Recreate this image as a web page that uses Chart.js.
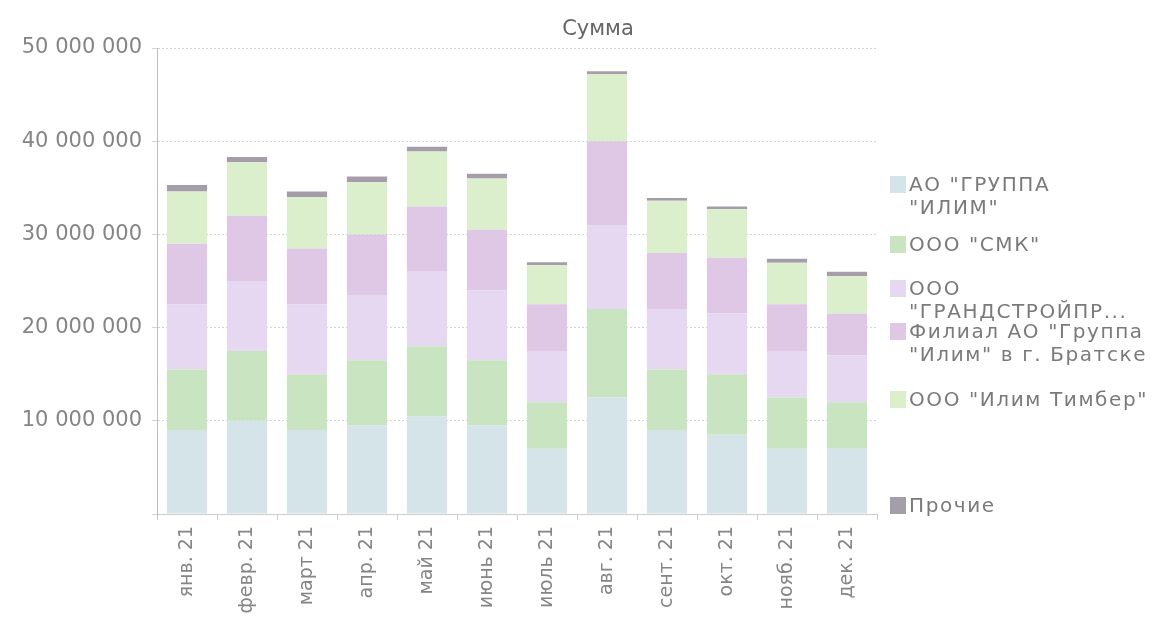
<!DOCTYPE html>
<html>
<head>
<meta charset="utf-8">
<script src="https://cdn.jsdelivr.net/npm/chart.js@4"></script>
<style>
  html, body { margin: 0; padding: 0; background: #fff; overflow: hidden; }
  #wrap { position: relative; width: 1173px; height: 622px; }
  #title { position: absolute; left: 498px; width: 200px; top: 16px; text-align: center;
           font-family: "DejaVu Sans", sans-serif; font-size: 21px; color: #666; }
  .lg { position: absolute; left: 890px; font-family: "DejaVu Sans", sans-serif; font-size: 20px;
        letter-spacing: 1.6px; line-height: 23px; color: #7a7a7a; white-space: nowrap; }
  .sw { position: absolute; left: 0; top: 3px; width: 16px; height: 17px; }
  .tx { position: absolute; left: 19px; top: 0; }
</style>
</head>
<body>
<div id="wrap">
  <canvas id="c" width="1173" height="622"></canvas>
  <div id="title">Сумма</div>
  <div id="legend"></div>
</div>
<script>
const categories = ["янв. 21","февр. 21","март 21","апр. 21","май 21","июнь 21","июль 21","авг. 21","сент. 21","окт. 21","нояб. 21","дек. 21"];
const seriesNames = [
  ["АО \"ГРУППА", "\"ИЛИМ\""],
  ["ООО \"СМК\""],
  ["ООО", "\"ГРАНДСТРОЙПР..."],
  ["Филиал АО \"Группа", "\"Илим\" в г. Братске"],
  ["ООО \"Илим Тимбер\""],
  ["Прочие"]
];
const grIlim   = [9.0, 10.0, 9.0, 9.5, 10.5, 9.5, 7.0, 12.5, 9.0, 8.5, 7.0, 7.0];
const smk      = [6.5, 7.5, 6.0, 7.0, 7.5, 7.0, 5.0, 9.5, 6.5, 6.5, 5.5, 5.0];
const grand    = [7.0, 7.5, 7.5, 7.0, 8.0, 7.5, 5.5, 9.0, 6.5, 6.5, 5.0, 5.0];
const bratsk   = [6.5, 7.0, 6.0, 6.5, 7.0, 6.5, 5.0, 9.0, 6.0, 6.0, 5.0, 4.5];
const timber   = [5.6, 5.75, 5.5, 5.6, 5.9, 5.5, 4.2, 7.2, 5.6, 5.2, 4.45, 4.0];
const prochie  = [0.7, 0.55, 0.6, 0.6, 0.5, 0.5, 0.3, 0.3, 0.3, 0.3, 0.45, 0.5];
const yTicks = [0, 10000000, 20000000, 30000000, 40000000, 50000000];

const seriesValues = [grIlim, smk, grand, bratsk, timber, prochie];
const colors = ["#d4e4e8", "#c9e4c0", "#e6d8f0", "#dfc8e6", "#dcefcd", "#a59eaa"];
const M = 1000000;

const datasets = seriesValues.map((vals, i) => ({
  label: seriesNames[i].join(" "),
  data: vals.map(v => v * M),
  backgroundColor: colors[i],
  borderWidth: 0
}));

const fmt = v => String(Math.round(v)).replace(/\B(?=(\d{3})+(?!\d))/g, " ");

new Chart(document.getElementById("c"), {
  type: "bar",
  data: { labels: categories, datasets },
  options: {
    responsive: false,
    animation: false,
    layout: { padding: { top: 48, right: 296, left: 0, bottom: 0 } },
    plugins: { legend: { display: false }, title: { display: false }, tooltip: { enabled: false } },
    datasets: { bar: { categoryPercentage: 1.0, barPercentage: 0.67 } },
    scales: {
      x: {
        stacked: true,
        afterFit(s) { s.height = 108; },
        grid: { offset: true, drawOnChartArea: false, tickLength: 6, color: "#ccc" },
        border: { color: "#ccc" },
        ticks: { minRotation: 90, maxRotation: 90, padding: 6, autoSkip: false,
                 color: "#858585", font: { family: "DejaVu Sans", size: 19 } }
      },
      y: {
        stacked: true,
        min: 0, max: 50 * M,
        afterFit(s) { s.width = 157; },
        afterBuildTicks(s) { s.ticks = yTicks.map(v => ({ value: v })); },
        grid: { color: "rgba(170,170,170,0.5)", borderDash: [2, 3], tickLength: 5 },
        border: { color: "#bbb", dash: [2, 2] },
        ticks: { padding: 10, color: "#858585", font: { family: "DejaVu Sans", size: 21 },
                 callback: v => v === 0 ? "" : fmt(v) }
      }
    }
  }
});

const tops = [173, 233, 277, 320, 388, 494];
const lg = document.getElementById("legend");
seriesNames.forEach((lines, i) => {
  const d = document.createElement("div");
  d.className = "lg";
  d.style.top = tops[i] + "px";
  const sw = document.createElement("div");
  sw.className = "sw";
  sw.style.background = colors[i];
  const tx = document.createElement("div");
  tx.className = "tx";
  tx.innerHTML = lines.map(l => l.replace(/&/g, "&amp;").replace(/</g, "&lt;")).join("<br>");
  d.appendChild(sw); d.appendChild(tx);
  lg.appendChild(d);
});
</script>
</body>
</html>
